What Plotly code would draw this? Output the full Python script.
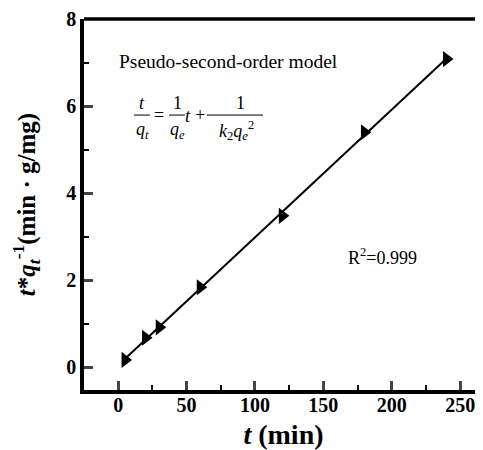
import numpy as np
import plotly.graph_objects as go

t_min = [5, 20, 30, 60, 120, 180, 240]
t_over_qt = [0.17, 0.68, 0.92, 1.84, 3.48, 5.40, 7.08]
x_ticks = [0, 50, 100, 150, 200, 250]
y_ticks = [0, 2, 4, 6, 8]

slope, intercept = np.polyfit(t_min, t_over_qt, 1)
fit_x = [t_min[0], t_min[-1]]
fit_y = [slope * v + intercept for v in fit_x]

FONT = "Liberation Serif"
fig = go.Figure()
fig.add_trace(go.Scatter(x=fit_x, y=fit_y, mode="lines",
                         line=dict(color="black", width=2), showlegend=False))
fig.add_trace(go.Scatter(x=t_min, y=t_over_qt, mode="markers",
                         marker=dict(symbol="triangle-right", size=14, color="black"),
                         showlegend=False))

# page body has an 8px margin, so the figure is sized to fill the rest of the window
fig.update_layout(
    width=475, height=442,
    margin=dict(l=76, r=0, t=11, b=60),
    plot_bgcolor="white", paper_bgcolor="white",
    font=dict(family=FONT, color="black"),
)
fig.update_xaxes(range=[-25, 266.7], tickvals=x_ticks, ticks="inside", ticklen=9, tickwidth=2.5,
                 showline=True, linewidth=3.5, linecolor="black", showgrid=False, automargin=False,
                 zeroline=False, tickfont=dict(size=20, family=FONT, weight="bold"),
                 ticklabelstandoff=-6,
                 minor=dict(dtick=25, ticks="inside", ticklen=5, tickwidth=2, tickcolor="black"),
                 title=dict(text="<i>t</i> (min)", font=dict(size=28, family=FONT, weight="bold"),
                            standoff=17))
fig.update_yaxes(range=[-0.52, 8], tickvals=y_ticks, ticks="inside", ticklen=9, tickwidth=2.5,
                 showline=True, linewidth=3.5, linecolor="black", showgrid=False, automargin=False,
                 zeroline=False, tickfont=dict(size=20, family=FONT, weight="bold"),
                 minor=dict(dtick=1, ticks="inside", ticklen=5, tickwidth=2, tickcolor="black"),
                 title=dict(text="<i>t</i>*<i>q<sub>t</sub></i><sup>-1</sup>(min · g/mg)",
                            font=dict(size=25, family=FONT, weight="bold"), standoff=32))

# top frame line
fig.add_shape(type="line", xref="paper", yref="paper", x0=0, x1=1, y0=1, y1=1,
              line=dict(color="black", width=3.5))

def ann(text, x, y, size=18, xanchor="center"):
    fig.add_annotation(text=text, xref="paper", yref="paper", x=x, y=y, showarrow=False,
                       xanchor=xanchor, yanchor="middle",
                       font=dict(family=FONT, size=size, color="black"))

W, H = 399.0, 363.0
def px(xp): return (xp - 84) / W
def py(yp): return (382 - yp) / H

ann("Pseudo-second-order model", px(117), py(61), size=19.5, xanchor="left")
# equation built from pieces
ann("<i>t</i>", px(142), py(101))
ann("<i>q<sub>t</sub></i>", px(142), py(128))
ann("=", px(159), py(113))
ann("1", px(177), py(101))
ann("<i>q<sub>e</sub></i>", px(177), py(128))
ann("<i>t</i>", px(188), py(114))
ann("+", px(200), py(113))
ann("1", px(240), py(101))
ann("<i>k</i><sub>2</sub><i>q<sub>e</sub></i><sup>2</sup>", px(236), py(128))
for x0, x1 in [(134, 150), (169, 185), (207, 263)]:
    fig.add_shape(type="line", xref="paper", yref="paper", x0=px(x0), x1=px(x1),
                  y0=py(113), y1=py(113), line=dict(color="black", width=1))
ann("R<sup>2</sup>=0.999", px(382), py(251), size=18)

fig.write_html("out.html")
